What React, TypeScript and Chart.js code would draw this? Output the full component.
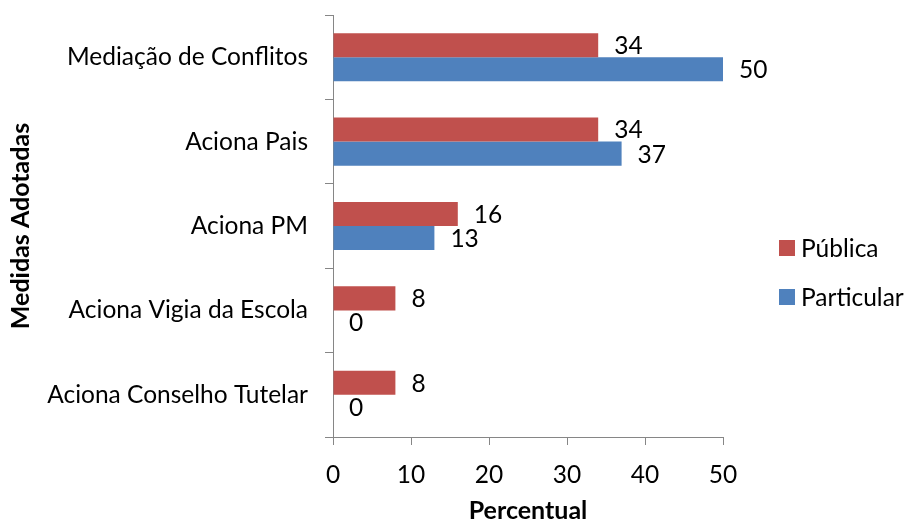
import React, { useEffect, useRef } from "react";
import { Chart, registerables } from "chart.js";

Chart.register(...registerables);

const categories = [
  "Mediação de Conflitos",
  "Aciona Pais",
  "Aciona PM",
  "Aciona Vigia da Escola",
  "Aciona Conselho Tutelar",
];
const publica = [34, 34, 16, 8, 8];
const particular = [50, 37, 13, 0, 0];
const seriesNames = ["Pública", "Particular"];
const colors = ["#C0504D", "#4F81BD"];
const xTicks = [0, 10, 20, 30, 40, 50];

const FONT = "Lato, 'Liberation Sans', sans-serif";
const SIZE = 24.5;
const TSIZE = 25;

const dataLabels = {
  id: "dataLabels",
  afterDatasetsDraw(chart: any) {
    const ctx = chart.ctx;
    ctx.save();
    ctx.font = `${SIZE}px ${FONT}`;
    ctx.fillStyle = "#000";
    ctx.textAlign = "left";
    ctx.textBaseline = "middle";
    chart.data.datasets.forEach((ds: any, i: number) => {
      const meta = chart.getDatasetMeta(i);
      meta.data.forEach((bar: any, j: number) => {
        ctx.fillText(String(ds.data[j]), bar.x + 16, bar.y + 1);
      });
    });
    ctx.restore();
  },
};

const customLegend = {
  id: "customLegend",
  afterDraw(chart: any) {
    const ctx = chart.ctx;
    ctx.save();
    ctx.font = `${SIZE}px ${FONT}`;
    ctx.textAlign = "left";
    ctx.textBaseline = "middle";
    const ys = [248, 297];
    chart.data.datasets.forEach((ds: any, i: number) => {
      ctx.fillStyle = ds.backgroundColor;
      ctx.fillRect(779, ys[i] - 8, 16, 16);
      ctx.fillStyle = "#000";
      ctx.fillText(ds.label, 801, ys[i] + 1);
    });
    ctx.restore();
  },
};

export default function App() {
  const ref = useRef<HTMLCanvasElement>(null);
  useEffect(() => {
    if (!ref.current) return;
    const chart = new Chart(ref.current, {
      type: "bar",
      data: {
        labels: categories,
        datasets: [
          { label: seriesNames[0], data: publica, backgroundColor: colors[0] },
          { label: seriesNames[1], data: particular, backgroundColor: colors[1] },
        ],
      },
      options: {
        indexAxis: "y",
        responsive: false,
        animation: false,
        layout: { padding: { top: 15, right: 183, bottom: 0, left: 0 } },
        datasets: { bar: { categoryPercentage: 0.57, barPercentage: 1 } },
        plugins: { legend: { display: false }, tooltip: { enabled: false } },
        scales: {
          x: {
            min: 0,
            max: 50,
            afterBuildTicks(scale: any) {
              scale.ticks = xTicks.map((v) => ({ value: v }));
            },
            afterFit(scale: any) {
              scale.height = 85;
            },
            grid: { drawOnChartArea: false, drawTicks: true, tickLength: 8, color: "#868686" },
            border: { color: "#868686", width: 1 },
            ticks: { color: "#000", font: { family: FONT, size: SIZE }, padding: 15, maxRotation: 0 },
            title: {
              display: true,
              text: "Percentual",
              color: "#000",
              font: { family: FONT, size: TSIZE, weight: "bold" },
              padding: { top: 0, bottom: -4 },
            },
          },
          y: {
            offset: true,
            afterFit(scale: any) {
              scale.width = 333;
              scale.paddingTop = 0;
              scale.paddingBottom = 0;
            },
            grid: { offset: true, drawOnChartArea: false, drawTicks: true, tickLength: 8, color: "#868686" },
            border: { color: "#868686", width: 1 },
            ticks: { color: "#000", font: { family: FONT, size: SIZE }, padding: 17 },
            title: {
              display: true,
              text: "Medidas Adotadas",
              color: "#000",
              font: { family: FONT, size: TSIZE, weight: "bold" },
              padding: { top: 6, bottom: 0 },
            },
          },
        },
      },
      plugins: [dataLabels, customLegend],
    } as any);
    return () => chart.destroy();
  }, []);
  return (
    <div style={{ position: "fixed", left: 0, top: 0, width: 906, height: 522, background: "#fff" }}>
      <canvas ref={ref} width={906} height={522} style={{ display: "block" }} />
    </div>
  );
}
